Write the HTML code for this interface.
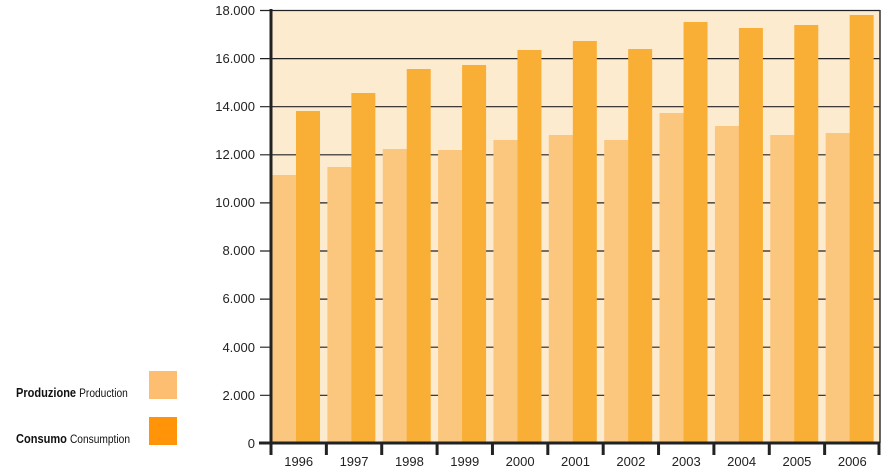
<!DOCTYPE html>
<html><head><meta charset="utf-8"><style>
html,body{margin:0;padding:0;background:#fff;}
svg{display:block;}
text{font-family:"Liberation Sans",sans-serif;}
</style></head><body>
<svg width="893" height="474" viewBox="0 0 893 474" xmlns="http://www.w3.org/2000/svg">
<rect x="271" y="10" width="609" height="433" fill="#FDEBD0"/>
<g stroke="#222" stroke-width="1.2">
<line x1="260" y1="10.5" x2="880" y2="10.5"/>
<line x1="260" y1="58.6" x2="880" y2="58.6"/>
<line x1="260" y1="106.7" x2="880" y2="106.7"/>
<line x1="260" y1="154.8" x2="880" y2="154.8"/>
<line x1="260" y1="202.9" x2="880" y2="202.9"/>
<line x1="260" y1="251" x2="880" y2="251"/>
<line x1="260" y1="299.1" x2="880" y2="299.1"/>
<line x1="260" y1="347.2" x2="880" y2="347.2"/>
<line x1="260" y1="395.3" x2="880" y2="395.3"/>
</g>
<line x1="880" y1="10" x2="880" y2="443" stroke="#333" stroke-width="1.5"/>
<g id="bars"></g>
<line x1="271" y1="9" x2="271" y2="445" stroke="#222" stroke-width="3"/>
<line x1="259" y1="443" x2="880" y2="443" stroke="#222" stroke-width="3"/>
<g stroke="#222" stroke-width="3" id="ticks"></g>
<g font-size="13" fill="#222" text-anchor="end">
<text x="255" y="15">18.000</text>
<text x="255" y="63">16.000</text>
<text x="255" y="111">14.000</text>
<text x="255" y="159">12.000</text>
<text x="255" y="207">10.000</text>
<text x="255" y="255">8.000</text>
<text x="255" y="303">6.000</text>
<text x="255" y="352">4.000</text>
<text x="255" y="400">2.000</text>
<text x="255" y="448">0</text>
</g>
<g font-size="13" fill="#222" text-anchor="middle" id="years"></g>
<text x="16" y="397" font-size="13" font-weight="bold" fill="#111" transform="scale(0.85,1)" transform-origin="16 397">Produzione <tspan font-weight="normal" font-size="12">Production</tspan></text>
<rect x="149" y="371" width="28" height="28" fill="#FDBE72"/>
<text x="16" y="443" font-size="13" font-weight="bold" fill="#111" transform="scale(0.85,1)" transform-origin="16 443">Consumo <tspan font-weight="normal" font-size="12">Consumption</tspan></text>
<rect x="149" y="417" width="28" height="28" fill="#FF9408"/>
<script>
var pt=[175,167,149,150,140,135,140,113,126,135,133];
var ct=[111,93,69,65,50,41,49,22,28,25,15];
var yrs=[1996,1997,1998,1999,2000,2001,2002,2003,2004,2005,2006];
var ns="http://www.w3.org/2000/svg",b=document.getElementById("bars"),t=document.getElementById("ticks"),y=document.getElementById("years");
var w=609/11;
for(var i=0;i<11;i++){var x0=272+i*w;
var r=document.createElementNS(ns,"rect");r.setAttribute("x",x0);r.setAttribute("y",pt[i]);r.setAttribute("width",24.5);r.setAttribute("height",443-pt[i]);r.setAttribute("fill","#FBC77F");b.appendChild(r);
r=document.createElementNS(ns,"rect");r.setAttribute("x",x0+24);r.setAttribute("y",ct[i]);r.setAttribute("width",24);r.setAttribute("height",443-ct[i]);r.setAttribute("fill","#F9AF36");b.appendChild(r);
var l=document.createElementNS(ns,"line");var tx=271+i*w;l.setAttribute("x1",tx);l.setAttribute("x2",tx);l.setAttribute("y1",443);l.setAttribute("y2",455);t.appendChild(l);
var tt=document.createElementNS(ns,"text");tt.setAttribute("x",271+i*w+w/2);tt.setAttribute("y",466);tt.textContent=yrs[i];y.appendChild(tt);}
var l=document.createElementNS(ns,"line");l.setAttribute("x1",879);l.setAttribute("x2",879);l.setAttribute("y1",443);l.setAttribute("y2",455);t.appendChild(l);
</script>
</svg>
</body></html>
